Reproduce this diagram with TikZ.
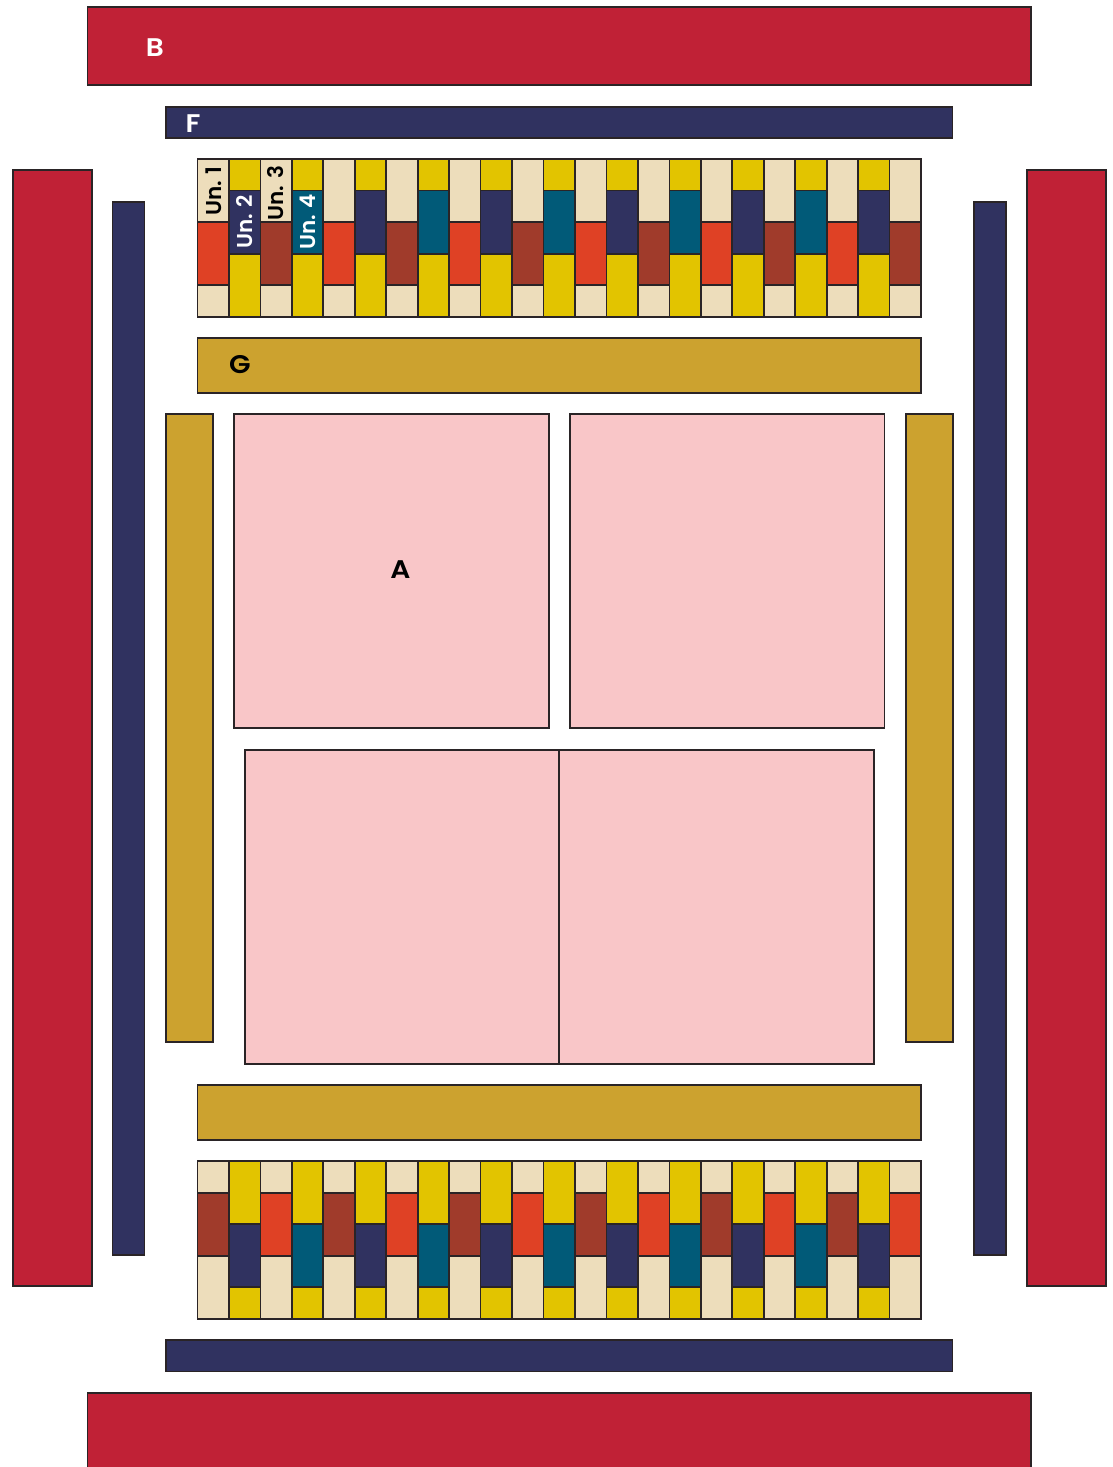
\documentclass[tikz,border=0pt]{standalone}
\usepackage{xcolor}
\usepackage{fontspec}
\setmainfont{Poppins}
\newfontfamily\tagfont[FakeStretch=1.1]{Poppins SemiBold}
\newfontfamily\unitfont{Poppins SemiBold}
\definecolor{seatred}{HTML}{C02136}
\definecolor{seatnavy}{HTML}{303260}
\definecolor{seatgold}{HTML}{CCA22F}
\definecolor{seatpink}{HTML}{F9C6C8}
\definecolor{seatcream}{HTML}{EDDDBB}
\definecolor{seatyellow}{HTML}{E2C400}
\definecolor{seatorange}{HTML}{DF4125}
\definecolor{seatbrown}{HTML}{A03B2B}
\definecolor{seatteal}{HTML}{015A78}
\definecolor{seatline}{HTML}{2A2426}
\begin{document}
\begin{tikzpicture}[
            x=1pt, y=-1pt,
            block/.style={draw=seatline, line width=1.7pt},
            redblock/.style={block, fill=seatred},
            navyblock/.style={block, fill=seatnavy},
            goldblock/.style={block, fill=seatgold},
            pinkblock/.style={block, fill=seatpink},
            tag/.style={font=\tagfont\fontsize{25.5}{26}\selectfont, inner sep=0pt},
            unit/.style={font=\unitfont\fontsize{21.5}{22}\selectfont, inner sep=0pt, rotate=90},
            ]

            \useasboundingbox (0,0) rectangle (1113,1467);
            \clip (0,0) rectangle (1113,1467);

            % Outer ring
            \draw[redblock] (87.5,7) rectangle (1031,85);
            \draw[redblock] (87.5,1393) rectangle (1031,1480);
            \draw[redblock] (13,170) rectangle (92,1286);
            \draw[redblock] (1027,170) rectangle (1106,1286);

            \draw[navyblock] (166,107) rectangle (952.5,138);
            \draw[navyblock] (166,1340) rectangle (952.5,1371.5);
            \draw[navyblock] (112.5,202) rectangle (144.5,1255);
            \draw[navyblock] (974,202) rectangle (1006,1255);

            \draw[goldblock] (197.5,338) rectangle (921,393);
            \draw[goldblock] (197.5,1085) rectangle (921,1140);
            \draw[goldblock] (166,414) rectangle (213,1042);
            \draw[goldblock] (906,414) rectangle (953,1042);

            % Centre squares
            \draw[pinkblock] (234,414) rectangle (549,728);
            \draw[pinkblock] (570,414) rectangle (884.5,728);
            \draw[pinkblock] (245,750) rectangle (559,1064);
            \draw[pinkblock] (559,750) rectangle (874,1064);

            % Odd columns of the two staggered rows
            \foreach \col [evaluate=\col as \xa using 197.5+31.46*(\col-1),
                           evaluate=\col as \xb using 197.5+31.46*\col,
                           evaluate=\col as \pick using {int(mod(\col-1,4))}] in {1,3,...,23} {
                    \ifnum\pick=0 \def\topfill{seatorange}\def\lowfill{seatbrown}\else \def\topfill{seatbrown}\def\lowfill{seatorange}\fi
                    \draw[block, fill=seatcream] (\xa,159) rectangle (\xb,222);
                    \draw[block, fill=\topfill] (\xa,222) rectangle (\xb,285);
                    \draw[block, fill=seatcream] (\xa,285) rectangle (\xb,317);
                    \draw[block, fill=seatcream] (\xa,1161) rectangle (\xb,1193);
                    \draw[block, fill=\lowfill] (\xa,1193) rectangle (\xb,1256);
                    \draw[block, fill=seatcream] (\xa,1256) rectangle (\xb,1319);
                }

            % Even columns
            \foreach \col [evaluate=\col as \xa using 197.5+31.46*(\col-1),
                           evaluate=\col as \xb using 197.5+31.46*\col,
                           evaluate=\col as \pick using {int(mod(\col,4))}] in {2,4,...,22} {
                    \ifnum\pick=2 \def\midfill{seatnavy}\else \def\midfill{seatteal}\fi
                    \draw[block, fill=seatyellow] (\xa,159) rectangle (\xb,190.5);
                    \draw[block, fill=\midfill] (\xa,190.5) rectangle (\xb,254);
                    \draw[block, fill=seatyellow] (\xa,254) rectangle (\xb,317);
                    \draw[block, fill=seatyellow] (\xa,1161) rectangle (\xb,1224);
                    \draw[block, fill=\midfill] (\xa,1224) rectangle (\xb,1287);
                    \draw[block, fill=seatyellow] (\xa,1287) rectangle (\xb,1319);
                }

            \node[tag, text=white] (labelB) at (155,48) {B};
            \node[tag, text=white] (labelF) at (193,124) {F};
            \node[tag, text=black] (labelG) at (240,365) {G};
            \node[tag, text=black] (labelA) at (400.5,570) {A};

            \node[unit, text=black] (unitone) at (213.5,191) {Un. 1};
            \node[unit, text=white] (unittwo) at (244.5,222) {Un. 2};
            \node[unit, text=black] (unitthree) at (276,193) {Un. 3};
            \node[unit, text=white] (unitfour) at (307.5,222) {Un. 4};
        \end{tikzpicture}
\end{document}
